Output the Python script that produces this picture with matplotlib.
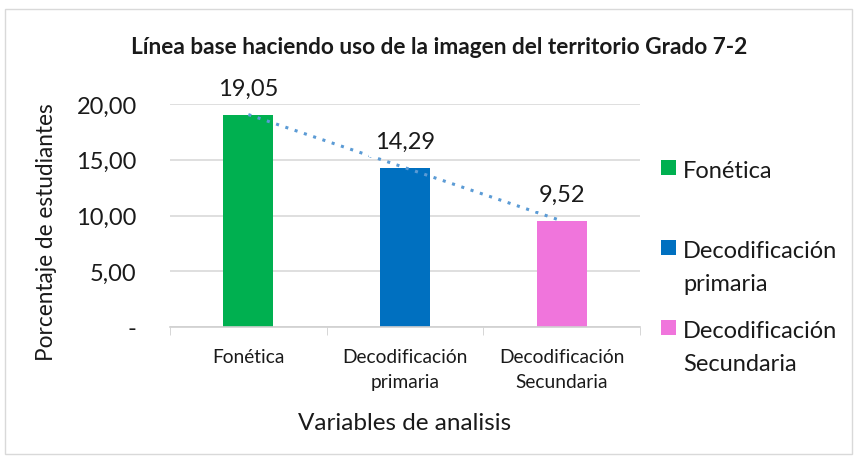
import matplotlib.pyplot as plt
import numpy as np
from matplotlib.patches import Rectangle

plt.rcParams['font.family'] = ['Lato', 'DejaVu Sans']

categories = ['Fonética', 'Decodificación\nprimaria', 'Decodificación\nSecundaria']
legend_labels = ['Fonética', 'Decodificación\nprimaria', 'Decodificación\nSecundaria']
values = [19.05, 14.29, 9.52]
colors = ['#00B050', '#0070C0', '#F075DC']
yticks = [0, 5, 10, 15, 20]
ytick_labels = ['-', '5,00', '10,00', '15,00', '20,00']

fig = plt.figure(figsize=(8.57, 4.6), dpi=100)
ax = fig.add_axes([170/857, 1 - 328/460, 470/857, 223/460])

x = np.arange(len(values))
ax.bar(x, values, width=0.32, color=colors, zorder=2)

# linear trend line
coef = np.polyfit(x, values, 1)
ax.plot(x, np.polyval(coef, x), linestyle=(0, (1, 2.2)), color='#5B9BD5',
        linewidth=2.2, zorder=3)

for xi, v in zip(x, values):
    ax.annotate(f'{v:.2f}'.replace('.', ','), (xi, v), xytext=(0, 19),
                textcoords='offset points', ha='center', va='center',
                fontsize=17, color='#1a1a1a', zorder=4, annotation_clip=False,
                bbox=dict(facecolor='white', edgecolor='none', pad=4))

ax.set_xlim(-0.5, 2.5)
ax.set_ylim(0, 20)
ax.set_yticks(yticks)
ax.set_yticklabels(ytick_labels, fontsize=17, color='#1a1a1a')
ax.set_xticks(x)
ax.set_xticklabels(categories, fontsize=13.8, color='#1a1a1a', linespacing=1.55)
ax.set_xticks([-0.5, 0.5, 1.5, 2.5], minor=True)
ax.tick_params(axis='x', which='major', length=0, pad=15)
ax.tick_params(axis='x', which='minor', length=6, color='#d0d0d0')
ax.tick_params(axis='y', length=0, pad=24)
ax.yaxis.grid(True, color='#d9d9d9', linewidth=1.2, zorder=0)
for s in ['top', 'right', 'left']:
    ax.spines[s].set_visible(False)
ax.spines['bottom'].set_color('#d0d0d0')
ax.spines['bottom'].set_linewidth(1.2)

ax.set_xlabel('Variables de analisis', fontsize=17.5, color='#1a1a1a', labelpad=16)
ax.set_ylabel('Porcentaje de estudiantes', fontsize=16.3, color='#1a1a1a',
              labelpad=14, y=0.43)

fig.text(439/857, 1 - 47/460, 'Línea base haciendo uso de la imagen del territorio Grado 7-2',
         ha='center', va='center', fontsize=16.3, fontweight='bold', color='#1a1a1a')

# legend: square aligned with first text line, entries every 80 px
for i, (c, lab) in enumerate(zip(colors, legend_labels)):
    yc = 168 + 80 * i
    fig.patches.append(Rectangle((661/857, 1 - (yc + 7.5)/460), 15/857, 15/460,
                                 transform=fig.transFigure, facecolor=c, edgecolor='none'))
    fig.text(683/857, 1 - (yc - 7)/460, lab, ha='left', va='top', fontsize=17,
             color='#1a1a1a', linespacing=1.7)

fig.patches.append(Rectangle((5/857, 5/460), 847/857, 445/460, transform=fig.transFigure,
                             fill=False, edgecolor='#d9d9d9', linewidth=1))

fig.savefig('out.png', dpi=100)
